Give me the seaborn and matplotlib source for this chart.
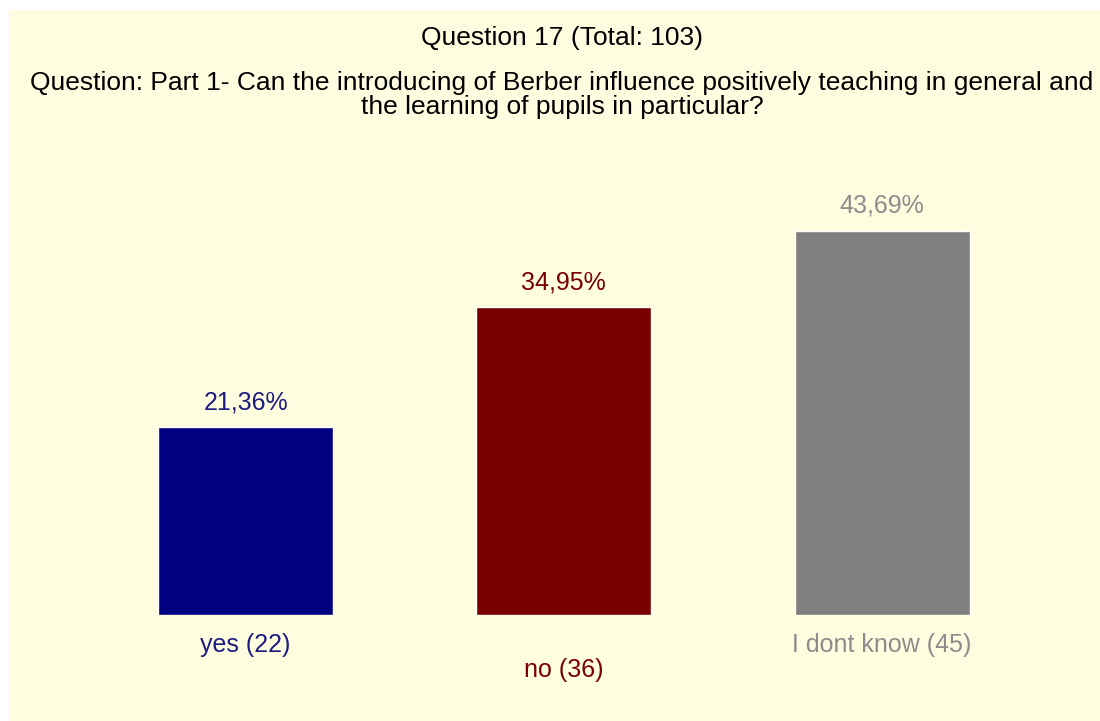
import matplotlib
matplotlib.use("Agg")
import matplotlib.pyplot as plt
import seaborn as sns
import pandas as pd
from matplotlib.patches import Rectangle

# ---- Data ----
categories = ["yes (22)", "no (36)", "I dont know (45)"]
percents = [21.36, 34.95, 43.69]
value_labels = ["21,36%", "34,95%", "43,69%"]
bar_colors = ["#000080", "#7a0000", "#808080"]
label_colors = ["#1c1c80", "#7a0000", "#8c8c8c"]

df = pd.DataFrame({"category": categories, "percent": percents})

# ---- Style ----
sns.set_style("white")
plt.rcParams["font.family"] = ["Liberation Sans", "DejaVu Sans"]

bg = "#fffde0"
fig = plt.figure(figsize=(11, 7.21), dpi=100)
fig.patch.set_facecolor("white")
fig.patches.append(Rectangle((9 / 1100, 0), 1, 711 / 721, transform=fig.transFigure,
                             facecolor=bg, edgecolor="none", zorder=-5))

ax = fig.add_axes([86.5 / 1100, 106 / 721, 954.75 / 1100, 440 / 721])
ax.set_facecolor("none")

sns.barplot(data=df, x="category", y="percent", hue="category",
            palette=bar_colors, width=0.55, legend=False, ax=ax,
            saturation=1)

ax.set_xlim(-0.5, 2.5)
ax.set_ylim(0, 50)
ax.axis("off")

# value labels above bars
for i, (v, t) in enumerate(zip(percents, value_labels)):
    ax.annotate(t, (i, v), xytext=(0, 13), textcoords="offset pixels",
                ha="center", va="bottom", fontsize=18, color=label_colors[i])

# category labels below bars
offsets = [-30, -55, -30]
for i, c in enumerate(categories):
    ax.annotate(c, (i, 0), xytext=(0, offsets[i]), textcoords="offset pixels",
                ha="center", va="center", fontsize=18, color=label_colors[i])

# ---- Titles ----
fig.text(562 / 1100, 1 - 38 / 721, "Question 17 (Total: 103)",
         ha="center", va="center", fontsize=19, color="black")
fig.text(562 / 1100, 1 - 95 / 721,
         "Question: Part 1- Can the introducing of Berber influence positively teaching in general and\n"
         "the learning of pupils in particular?",
         ha="center", va="center", fontsize=19, color="black", linespacing=0.95)

plt.savefig("out.png", dpi=100, facecolor=fig.get_facecolor())
